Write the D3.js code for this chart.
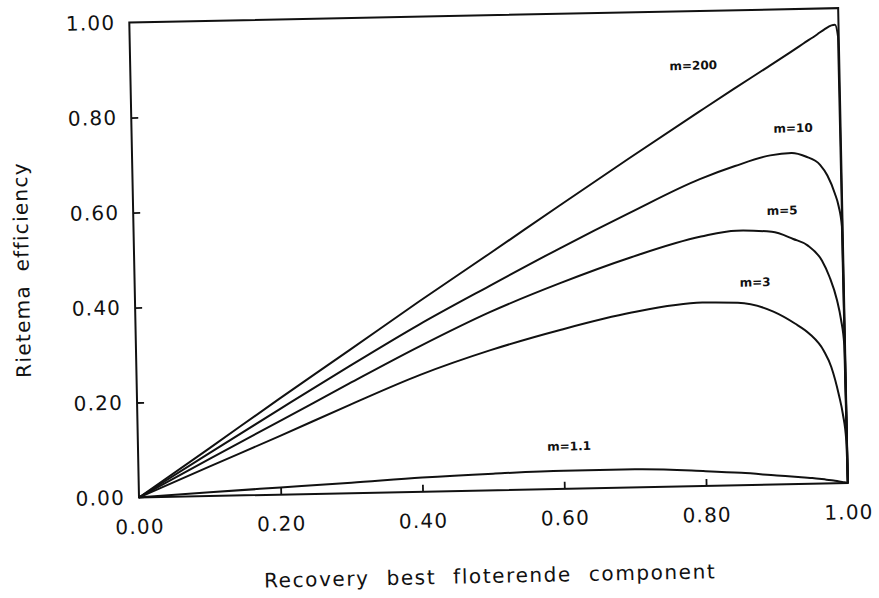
<!DOCTYPE html>
<html>
<head>
<meta charset="utf-8">
<script src="https://cdn.jsdelivr.net/npm/d3@7"></script>
<style>
  html, body { margin: 0; padding: 0; background: #fff; }
  svg { display: block; }
  text { font-family: "DejaVu Sans", sans-serif; fill: #111; }
</style>
</head>
<body>
<svg id="chart" width="879" height="598"></svg>
<script>
// Recovery of the best floating component (shared abscissa for all curves)
const recovery = [0, 0.1, 0.2, 0.3, 0.4, 0.5, 0.6, 0.7, 0.8, 0.85, 0.9, 0.93, 0.95, 0.97, 0.98, 0.99, 0.995, 0.999, 1.0];

// Rietema efficiency for each value of m
const effM200 = [0, 0.100, 0.201, 0.300, 0.400, 0.497, 0.595, 0.692, 0.787, 0.834, 0.880, 0.908, 0.927, 0.946, 0.956, 0.964, 0.965, 0.94, 0];
const effM10  = [0, 0.090, 0.179, 0.267, 0.352, 0.430, 0.506, 0.578, 0.646, 0.672, 0.693, 0.697, 0.689, 0.671, 0.648, 0.610, 0.583, 0.54, 0];
const effM5   = [0, 0.078, 0.154, 0.231, 0.306, 0.375, 0.433, 0.484, 0.525, 0.536, 0.532, 0.516, 0.502, 0.469, 0.435, 0.385, 0.345, 0.29, 0];
const effM3   = [0, 0.062, 0.123, 0.186, 0.246, 0.295, 0.335, 0.368, 0.386, 0.384, 0.364, 0.338, 0.316, 0.279, 0.245, 0.185, 0.145, 0.09, 0];
const effM11  = [0, 0.008, 0.015, 0.022, 0.030, 0.035, 0.038, 0.038, 0.031, 0.026, 0.019, 0.015, 0.012, 0.008, 0.006, 0.003, 0.002, 0.0005, 0];

const seriesNames = ["m=200", "m=10", "m=5", "m=3", "m=1.1"];
const seriesValues = [effM200, effM10, effM5, effM3, effM11];

// Tick values for both axes
const xTicks = [0, 0.2, 0.4, 0.6, 0.8, 1.0];
const yTicks = [0, 0.2, 0.4, 0.6, 0.8, 1.0];

const xTitle = "Recovery best floterende component";
const yTitle = "Rietema efficiency";

// Where each curve's label sits, in data units
const labelAt = {
  "m=200": [0.794, 0.884],
  "m=10":  [0.933, 0.748],
  "m=5":   [0.915, 0.575],
  "m=3":   [0.875, 0.425],
  "m=1.1": [0.608, 0.088]
};

// ---- layout ----
const plotL = 139, plotR = 848, plotT = 22.5, plotB = 497.5;
const tilt = -1.17; // the whole plot sits slightly tilted

const x = d3.scaleLinear().domain([0, 1]).range([plotL, plotR]);
const y = d3.scaleLinear().domain([0, 1]).range([plotB, plotT]);

const svg = d3.select("#chart");
const g = svg.append("g").attr("transform", `rotate(${tilt},${plotL},${plotB})`);

const fmt = d3.format(".2f");

// Axes with inward ticks
const xAxis = g.append("g")
  .attr("transform", `translate(0,${plotB})`)
  .call(d3.axisBottom(x).tickValues(xTicks).tickFormat(fmt).tickSize(-7).tickSizeOuter(0).tickPadding(22));
const yAxis = g.append("g")
  .attr("transform", `translate(${plotL},0)`)
  .call(d3.axisLeft(y).tickValues(yTicks).tickFormat(fmt).tickSize(-7).tickSizeOuter(0).tickPadding(14));

[xAxis, yAxis].forEach(a => {
  a.select(".domain").remove();
  a.selectAll(".tick line").attr("stroke", "#111").attr("stroke-width", 1.8);
  a.selectAll(".tick text")
    .attr("fill", "#111")
    .style("font-family", '"DejaVu Sans", sans-serif')
    .style("font-size", "20px")
    .style("letter-spacing", "1.2px");
});
yAxis.selectAll(".tick line").filter(d => d === 0 || d === 1).remove();
xAxis.selectAll(".tick line").filter(d => d === 0 || d === 1).remove();

// Frame
g.append("rect")
  .attr("x", x(0)).attr("y", y(1))
  .attr("width", x(1) - x(0)).attr("height", y(0) - y(1))
  .attr("fill", "none").attr("stroke", "#111").attr("stroke-width", 2);

// Curves
const line = d3.line()
  .x((d, i) => x(recovery[i]))
  .y(d => y(d))
  .curve(d3.curveMonotoneX);

g.selectAll("path.curve")
  .data(seriesValues)
  .join("path")
  .attr("class", "curve")
  .attr("d", line)
  .attr("fill", "none")
  .attr("stroke", "#111")
  .attr("stroke-width", 2)
  .attr("stroke-linejoin", "round");

// Curve labels
g.selectAll("text.lbl")
  .data(seriesNames)
  .join("text")
  .attr("class", "lbl")
  .attr("x", d => x(labelAt[d][0]))
  .attr("y", d => y(labelAt[d][1]))
  .attr("text-anchor", "middle")
  .attr("dominant-baseline", "middle")
  .style("font-size", "12px")
  .style("font-weight", "bold")
  .text(d => d);

// Axis titles
g.append("text")
  .attr("x", x(0.493))
  .attr("y", plotB + 87)
  .attr("text-anchor", "middle")
  .attr("dominant-baseline", "middle")
  .style("font-size", "20px")
  .style("letter-spacing", "1.6px")
  .style("word-spacing", "9px")
  .text(xTitle);

g.append("text")
  .attr("transform", `translate(${plotL - 111},${y(0.484)}) rotate(-90)`)
  .attr("text-anchor", "middle")
  .attr("dominant-baseline", "middle")
  .style("font-size", "20px")
  .style("letter-spacing", "1.3px")
  .style("word-spacing", "6px")
  .text(yTitle);
</script>
</body>
</html>
